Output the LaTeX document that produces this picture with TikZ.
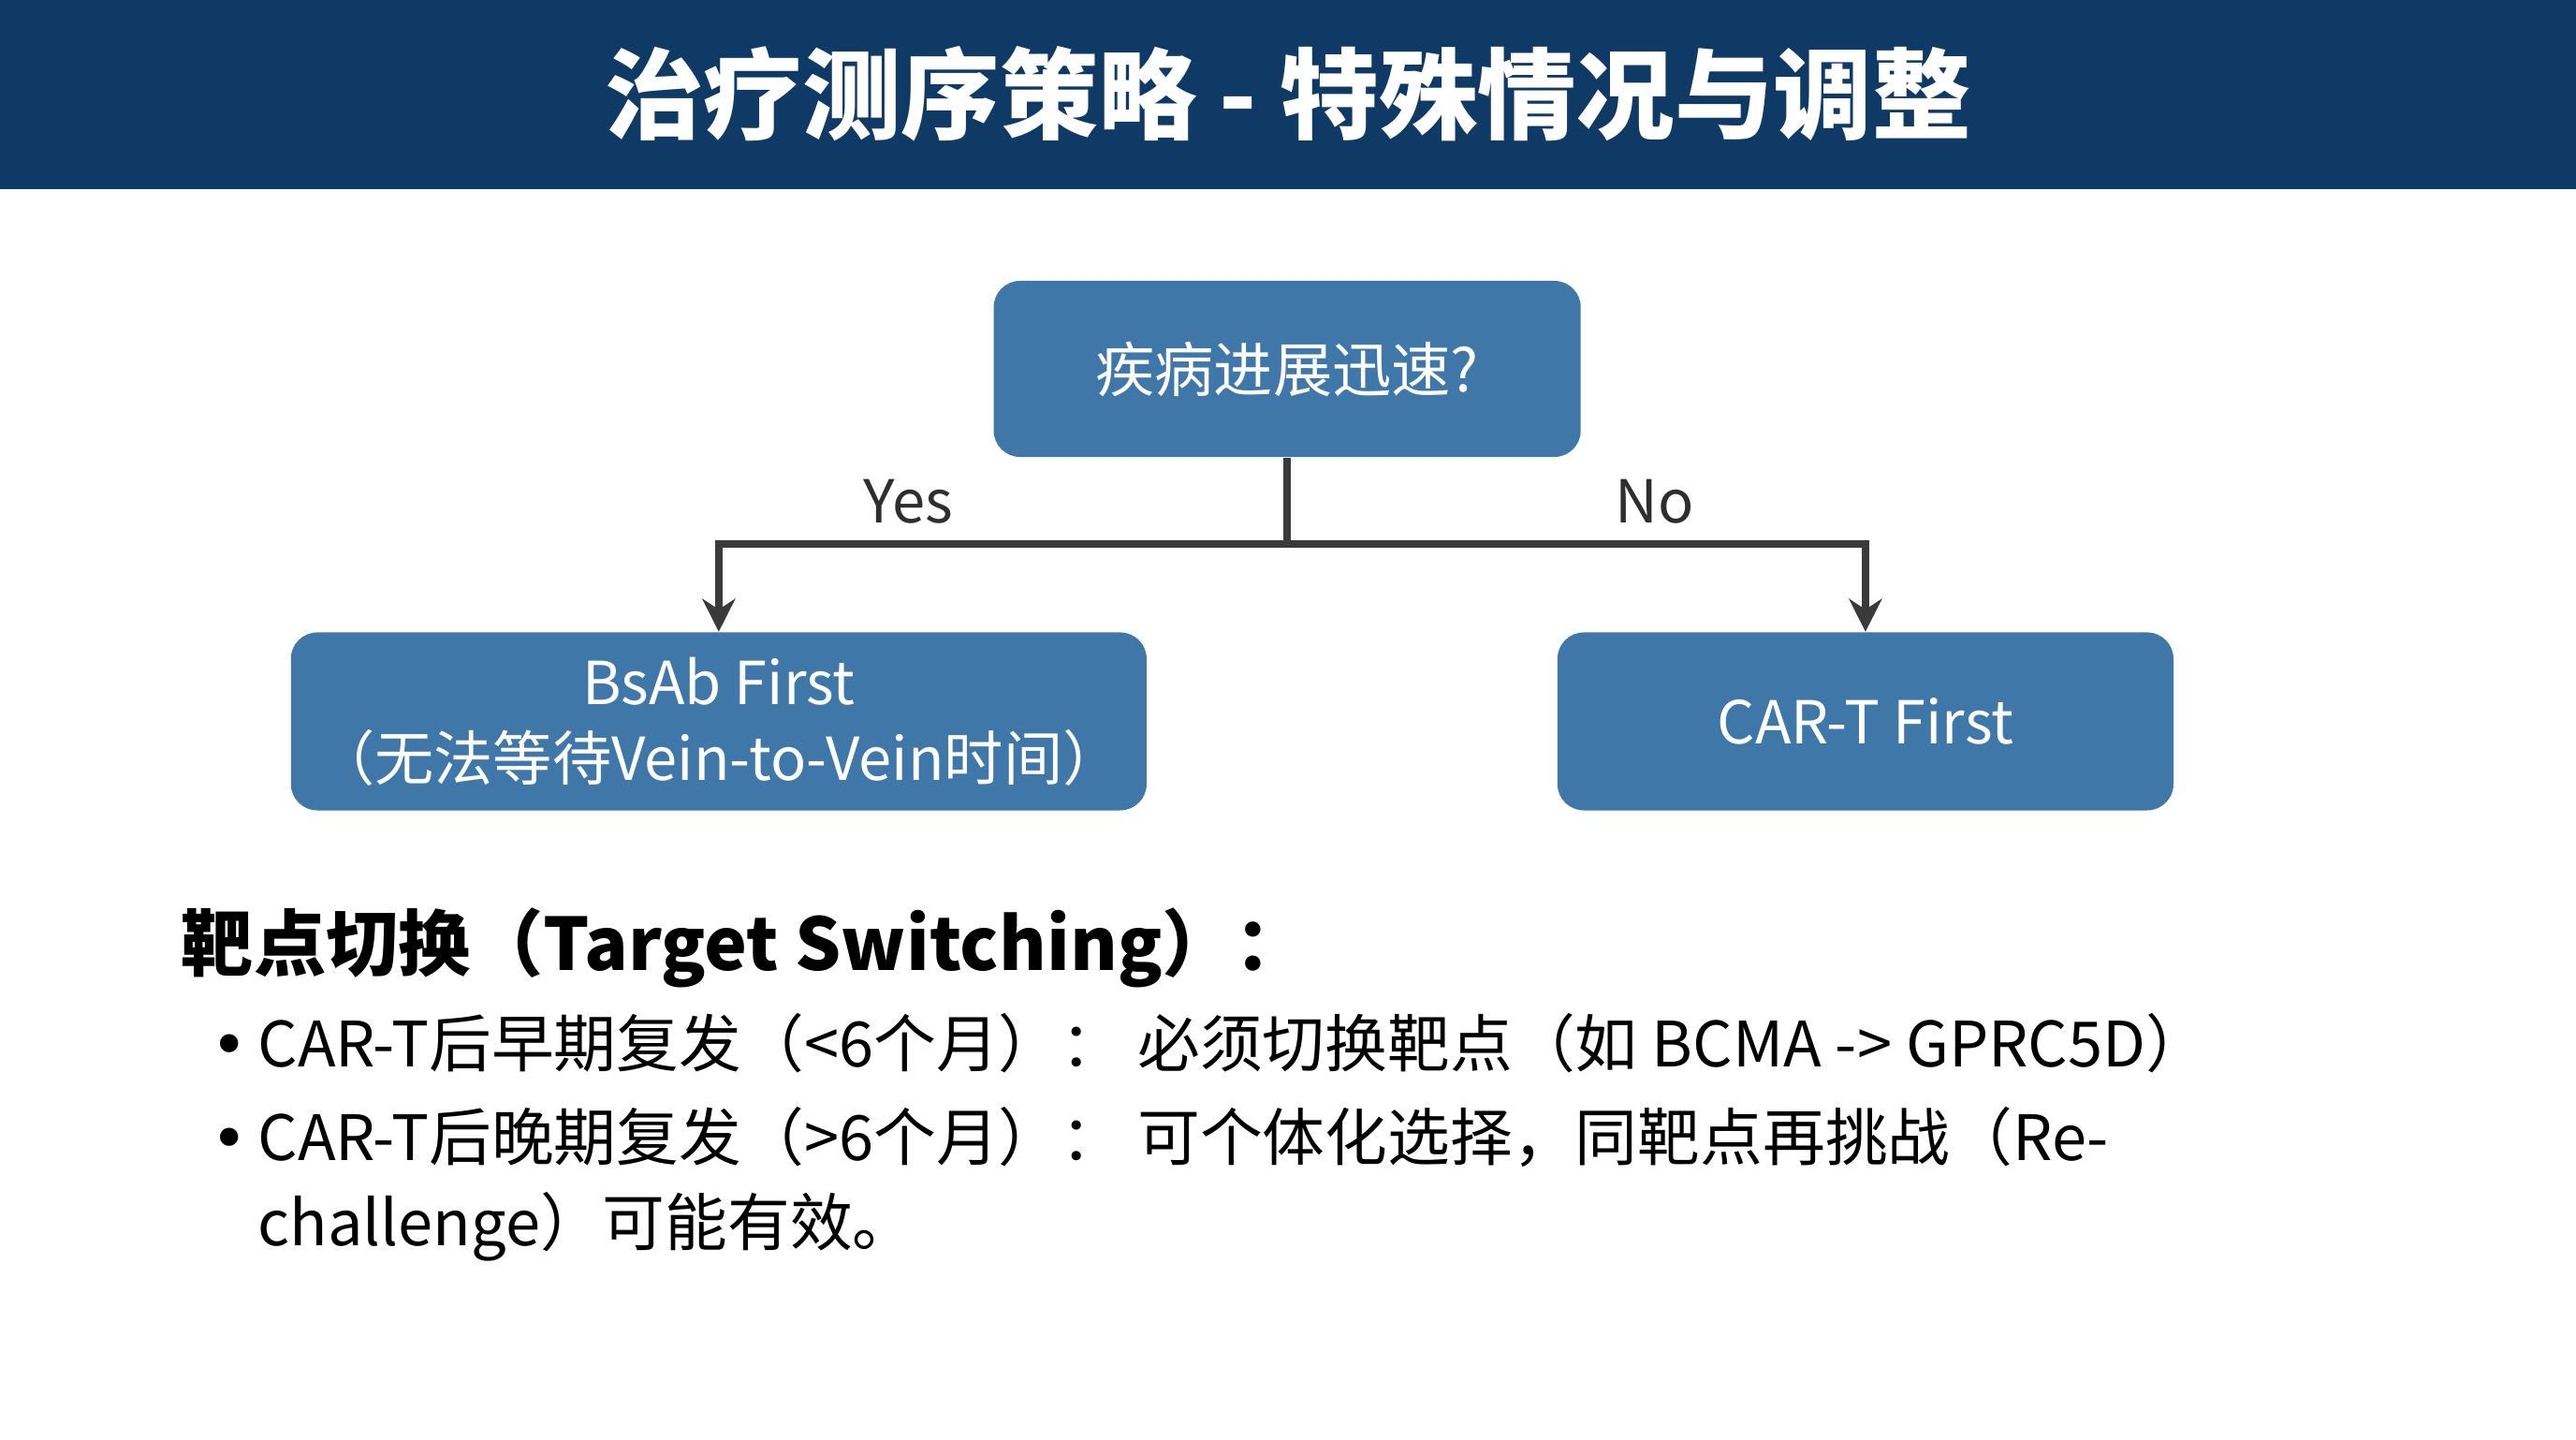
\documentclass[tikz,border=0pt]{standalone}
\usepackage{fontspec}
\setmainfont{Noto Sans CJK SC}
\newfontfamily\bulletfont{DejaVu Sans}
\usetikzlibrary{arrows.meta, positioning}
\definecolor{navy}{HTML}{0F3A66}
\definecolor{boxblue}{HTML}{3F77A9}
\definecolor{linegray}{HTML}{3A3A3A}
\newcommand{\dotmark}{\makebox[0.75em][l]{\bulletfont •}}
\begin{document}
\begin{tikzpicture}[x=0.01755cm, y=-0.01755cm,
    box/.style={draw=none, fill=boxblue, rounded corners=8pt, text=white,
        font=\fontsize{18}{23}\selectfont, align=center, inner sep=0pt},
    link/.style={draw=linegray, line width=2.2pt},
    branch/.style={font=\fontsize{18}{22}\selectfont, text=linegray!80!black},
    item/.style={anchor=north west, align=left, font=\fontsize{19}{26}\selectfont, inner sep=0pt}]
        % Background and title bar
        \useasboundingbox (0,0) rectangle (1568,876);
        \fill[white] (0,0) rectangle (1568,876);
        \fill[navy] (0,0) rectangle (1568,115);
        \node[text=white, font=\fontsize{30}{36}\selectfont\bfseries] (title) at (784,57) {治疗测序策略 - 特殊情况与调整};

        % Decision boxes
        \node[box, minimum width=6.27cm, minimum height=1.88cm] (fast) at (783.5,224.5) {疾病进展迅速?};
        \node[box, minimum width=9.14cm, minimum height=1.9cm] (bsab) at (437.5,439) {BsAb First\\（无法等待Vein-to-Vein时间）};
        \node[box, minimum width=6.58cm, minimum height=1.9cm] (cart) at (1135.5,439) {CAR-T First};

        % Connectors
        \coordinate (split) at (783.5,331);
        \coordinate (yes) at (437.5,331);
        \coordinate (no) at (1135.5,331);
        \draw[link] (fast.south) -- (split);
        \draw[link, -{Stealth[length=10pt,width=10pt]}] (split) -- (yes) -- (bsab.north);
        \draw[link, -{Stealth[length=10pt,width=10pt]}] (split) -- (no) -- (cart.north);
        \node[branch] (yeslbl) at (553,305) {Yes};
        \node[branch] (nolbl) at (1007,305) {No};

        % Target switching notes
        \node[item, font=\fontsize{22}{26}\selectfont\bfseries] (head) at (110,552) {靶点切换（Target Switching）：};
        \node[item] (early) at (128,616) {\dotmark CAR-T后早期复发（<6个月）： 必须切换靶点（如 BCMA -> GPRC5D）};
        \node[item] (late) at (128,673) {\dotmark CAR-T后晚期复发（>6个月）： 可个体化选择，同靶点再挑战（Re-\\\hspace*{0.75em}challenge）可能有效。};
\end{tikzpicture}
\end{document}
